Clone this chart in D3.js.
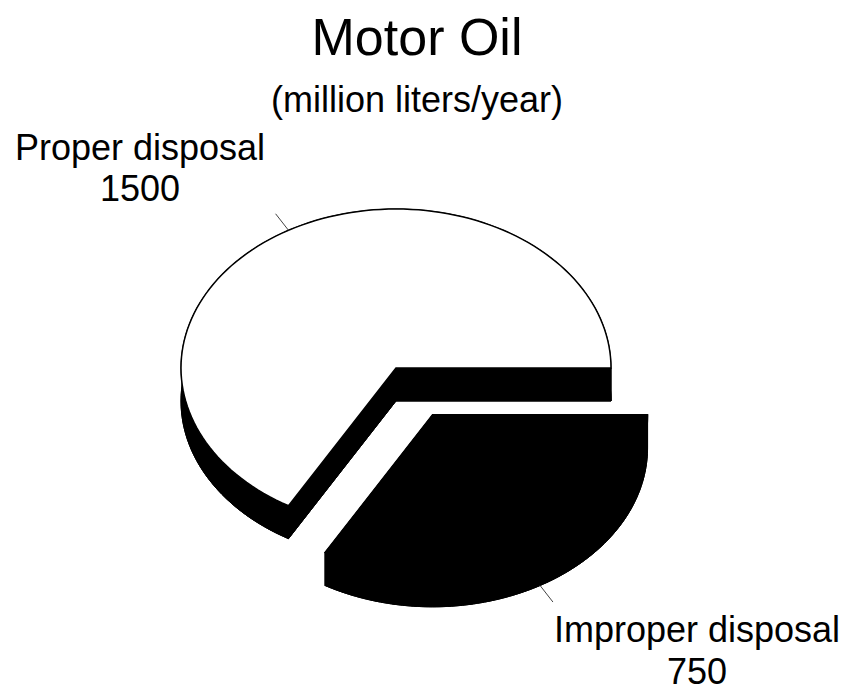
<!DOCTYPE html>
<html>
<head>
<meta charset="utf-8">
<script src="https://cdn.jsdelivr.net/npm/d3@7"></script>
<style>
  html, body { margin: 0; padding: 0; background: #fff; }
  text { font-family: "Liberation Sans", Arial, Helvetica, sans-serif; fill: #000; }
</style>
</head>
<body>
<svg id="chart" width="845" height="692"></svg>
<script>
// ---- data ----
const categories = ["Proper disposal", "Improper disposal"];
const values = [1500, 750];
const valueLabels = ["1500", "750"];
const sliceColors = ["#ffffff", "#000000"];
const title = "Motor Oil";
const subtitle = "(million liters/year)";

// ---- layout ----
const W = 845, H = 692;
const cx = 396, cy = 368, rx = 215, ry = 159, depth = 33;
const explode = [0, 0.34];

const svg = d3.select("#chart");

const pie = d3.pie().sort(null).value(d => d)
  .startAngle(7 * Math.PI / 6).endAngle(7 * Math.PI / 6 + 2 * Math.PI);
const arcs = pie(values);

// convert d3 angle (clockwise from 12 o'clock) to screen param angle
const toParam = t => t - Math.PI / 2;

function pt(ox, oy, a, r = 1, dz = 0) {
  return [ox + r * rx * Math.cos(a), oy + r * ry * Math.sin(a) + dz];
}

function arcPts(ox, oy, a0, a1, dz, n = 120) {
  const pts = [];
  for (let i = 0; i <= n; i++) {
    const a = a0 + (a1 - a0) * i / n;
    pts.push(pt(ox, oy, a, 1, dz));
  }
  return pts;
}

const line = d3.line();
const g = svg.append("g");

arcs.forEach((d, i) => {
  const a0 = toParam(d.startAngle), a1 = toParam(d.endAngle);
  const mid = (a0 + a1) / 2;
  const ox = cx + explode[i] * rx * Math.cos(mid);
  const oy = cy + explode[i] * ry * Math.sin(mid);
  const sg = g.append("g").attr("class", "slice");

  const sideStyle = p => p.attr("fill", "#000").attr("stroke", "#000").attr("stroke-width", 1)
    .attr("stroke-linejoin", "round");

  // bottom face
  const bottom = [[ox, oy + depth]].concat(arcPts(ox, oy, a0, a1, depth));
  sideStyle(sg.append("path").attr("d", line(bottom) + "Z"));
  // outer wall
  const wall = arcPts(ox, oy, a0, a1, 0).concat(arcPts(ox, oy, a0, a1, depth).reverse());
  sideStyle(sg.append("path").attr("d", line(wall) + "Z"));
  // cut walls
  [a0, a1].forEach(a => {
    const e = pt(ox, oy, a);
    const q = [[ox, oy], e, [e[0], e[1] + depth], [ox, oy + depth]];
    sideStyle(sg.append("path").attr("d", line(q) + "Z"));
  });
  // top face
  const top = [[ox, oy]].concat(arcPts(ox, oy, a0, a1, 0));
  sg.append("path").attr("d", line(top) + "Z")
    .attr("fill", sliceColors[i]).attr("stroke", "#000").attr("stroke-width", 1.5)
    .attr("stroke-linejoin", "miter");

  // leader line
  const dz = i === 0 ? 0 : depth;
  const p1 = pt(ox, oy, mid, 1.0, dz), p2 = pt(ox, oy, mid, 1.12, dz);
  svg.append("line").attr("x1", p1[0]).attr("y1", p1[1]).attr("x2", p2[0]).attr("y2", p2[1])
    .attr("stroke", "#444").attr("stroke-width", 1);
});

// ---- text ----
svg.append("text").attr("x", 417).attr("y", 55).attr("text-anchor", "middle")
  .style("font-size", "52px").text(title);
svg.append("text").attr("x", 417).attr("y", 112).attr("text-anchor", "middle")
  .style("font-size", "36px").text(subtitle);

const labelPos = [[140, 160, 201], [697, 642, 684]];
categories.forEach((c, i) => {
  const [x, y1, y2] = labelPos[i];
  svg.append("text").attr("x", x).attr("y", y1).attr("text-anchor", "middle")
    .style("font-size", "36px").text(c);
  svg.append("text").attr("x", x).attr("y", y2).attr("text-anchor", "middle")
    .style("font-size", "36px").text(valueLabels[i]);
});
</script>
</body>
</html>
